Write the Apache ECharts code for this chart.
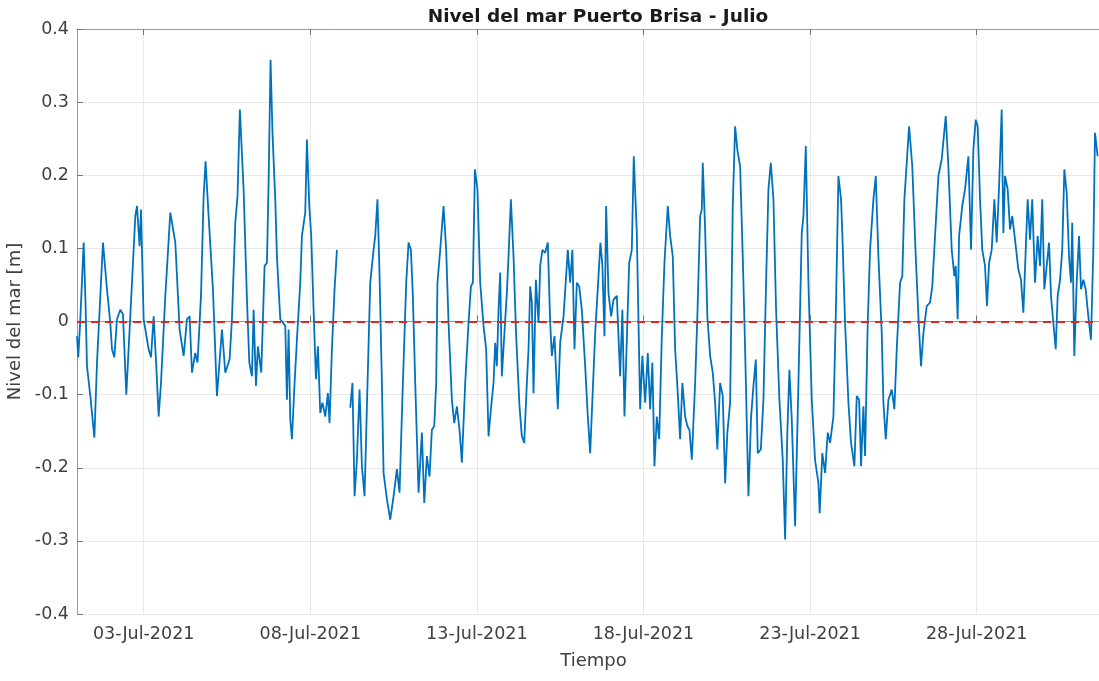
<!DOCTYPE html>
<html><head><meta charset="utf-8">
<script src="https://cdn.jsdelivr.net/npm/echarts@6/dist/echarts.min.js"></script>
<style>html,body{margin:0;padding:0;background:#fff}#c{width:1099px;height:681px}</style>
</head><body><div id="c"></div>
<script>
// hours since 01-Jul-2021 00:00
const hours = [
0.0,0.9,2.4,4.8,6.0,7.2,9.6,12.5,14.4,16.8,18.7,21.6,24.0,25.2,26.9,28.8,31.2,33.1,35.5,37.9,
42.0,43.2,45.1,46.1,48.0,51.6,53.3,55.2,57.1,58.8,60.5,63.6,67.2,70.8,73.9,76.8,79.2,81.1,82.8,85.2,
86.8,89.3,91.2,92.6,94.8,97.9,100.8,104.4,106.8,109.9,111.6,114.0,115.6,117.3,120.0,122.4,124.1,126.0,127.2,128.9,
130.3,132.7,135.1,136.8,138.0,139.4,140.8,142.8,144.0,146.4,150.0,151.2,152.4,153.6,154.8,156.7,158.4,160.8,162.0,164.4,
165.6,167.3,168.7,170.4,172.1,173.5,175.2,176.8,178.8,180.7,181.9,183.6,185.5,187.2,190.0,196.8,198.4,199.9,201.6,203.5,
205.2,207.1,208.8,211.2,213.6,214.8,216.4,217.7,219.6,220.8,223.2,225.6,228.0,230.4,232.3,234.7,235.7,237.1,238.8,240.5,
241.9,243.6,246.0,248.4,250.1,252.0,253.9,255.6,257.3,258.7,259.6,261.6,264.0,265.9,267.6,270.0,271.7,273.6,275.5,277.2,
279.6,282.0,283.7,285.1,286.6,288.4,290.4,292.8,294.7,296.4,298.1,300.0,301.2,302.4,303.6,304.8,306.0,307.7,309.6,310.8,
312.5,314.4,316.3,318.7,320.4,322.1,324.0,325.2,326.4,327.6,328.8,330.5,332.4,333.6,335.2,337.2,339.1,340.8,342.0,343.9,
346.3,348.0,350.4,352.1,353.5,355.2,356.8,358.3,360.0,361.7,363.6,366.0,367.9,369.6,371.2,373.2,375.6,377.0,378.4,379.9,
381.1,382.8,384.7,386.4,388.8,391.2,392.8,394.3,396.0,397.7,399.6,401.0,403.2,405.6,407.2,409.2,411.1,412.8,414.4,415.9,
417.6,419.3,421.2,423.1,425.5,427.2,429.1,430.8,432.4,434.4,436.0,438.0,439.6,441.1,442.8,445.2,446.8,448.8,450.0,450.7,
452.4,454.0,456.0,457.9,459.6,461.2,463.2,465.1,466.8,468.4,470.4,472.3,474.0,475.6,477.6,479.5,481.2,483.6,485.5,487.2,
488.9,490.3,492.5,494.4,496.3,498.0,499.7,501.6,503.5,505.9,508.3,510.0,511.6,513.1,514.8,517.2,519.6,522.0,523.2,524.9,
526.8,529.2,531.6,534.0,534.9,536.8,538.8,540.7,542.4,544.8,546.5,548.4,550.3,551.2,553.2,555.6,557.5,559.9,561.6,563.3,
564.7,566.4,567.6,569.5,571.2,573.6,575.3,577.2,579.6,580.8,582.5,584.4,586.8,588.7,590.4,592.8,594.4,595.9,599.3,601.6,
604.1,606.0,607.9,609.6,612.0,614.4,616.0,618.0,620.4,622.8,625.7,627.6,630.0,631.9,632.9,634.3,635.3,637.6,639.6,642.0,
643.9,645.6,647.3,648.7,650.4,652.0,654.0,655.4,656.9,658.8,660.7,662.4,664.1,666.0,667.2,668.4,670.3,672.0,673.6,675.6,
678.0,679.9,681.6,683.3,684.7,686.4,688.0,690.0,691.9,693.6,695.2,696.7,698.4,700.1,701.5,703.2,704.9,706.3,708.0,709.6,
711.1,712.8,714.5,715.9,716.8,718.3,720.0,721.7,723.1,724.8,726.5,728.4,730.3,732.0,733.2,735.1
];
// sea level [m]
const level = [
-0.020,-0.049,0.003,0.108,0.035,-0.061,-0.102,-0.159,-0.056,0.035,0.108,0.044,-0.002,-0.038,-0.049,0.003,0.016,0.010,-0.100,-0.011,
0.144,0.158,0.103,0.153,0.003,-0.038,-0.049,0.007,-0.061,-0.130,-0.084,0.035,0.149,0.108,-0.011,-0.047,0.003,0.007,-0.070,-0.043,
-0.056,0.035,0.171,0.219,0.144,0.044,-0.102,-0.011,-0.070,-0.052,0.003,0.135,0.171,0.290,0.180,0.030,-0.056,-0.075,0.016,-0.088,
-0.034,-0.070,0.076,0.080,0.190,0.358,0.258,0.167,0.089,0.003,-0.006,-0.107,-0.011,-0.134,-0.161,-0.084,-0.025,0.053,0.117,0.149,
0.249,0.158,0.117,0.016,-0.079,-0.034,-0.125,-0.111,-0.130,-0.098,-0.139,-0.038,0.044,0.098,null,-0.118,-0.084,-0.239,-0.189,-0.093,
-0.198,-0.239,-0.116,0.053,0.098,0.117,0.167,0.080,-0.084,-0.207,-0.243,-0.271,-0.239,-0.202,-0.234,-0.084,-0.029,0.053,0.108,0.098,
0.035,-0.084,-0.234,-0.152,-0.248,-0.184,-0.212,-0.148,-0.143,-0.084,0.053,0.098,0.158,0.098,-0.002,-0.107,-0.139,-0.116,-0.148,-0.193,
-0.084,-0.002,0.048,0.053,0.208,0.181,0.053,-0.006,-0.038,-0.157,-0.120,-0.084,-0.029,-0.061,0.016,0.067,-0.075,-0.020,0.039,0.089,
0.167,0.089,-0.020,-0.116,-0.157,-0.166,-0.084,-0.038,0.048,0.026,-0.098,0.057,-0.002,0.076,0.098,0.094,0.108,-0.002,-0.047,-0.020,
-0.120,-0.029,0.007,0.057,0.098,0.053,0.098,-0.038,0.053,0.048,0.016,-0.061,-0.130,-0.180,-0.107,-0.016,0.062,0.108,0.076,-0.020,
0.158,0.039,0.007,0.030,0.035,-0.075,0.016,-0.130,-0.025,0.080,0.098,0.226,0.121,-0.120,-0.047,-0.111,-0.043,-0.120,-0.056,-0.198,
-0.130,-0.161,-0.020,0.080,0.158,0.117,0.089,-0.038,-0.088,-0.161,-0.084,-0.130,-0.143,-0.148,-0.189,-0.084,0.007,0.144,0.153,0.217,
0.126,0.007,-0.047,-0.070,-0.111,-0.175,-0.084,-0.102,-0.221,-0.152,-0.111,0.158,0.267,0.235,0.212,0.089,-0.038,-0.239,-0.130,-0.088,
-0.052,-0.180,-0.175,-0.107,0.053,0.181,0.217,0.167,0.016,-0.107,-0.189,-0.298,-0.152,-0.066,-0.134,-0.280,-0.084,0.121,0.144,0.240,
0.053,-0.107,-0.190,-0.221,-0.262,-0.180,-0.207,-0.152,-0.166,-0.130,0.007,0.199,0.167,0.121,-0.002,-0.111,-0.166,-0.198,-0.102,-0.107,
-0.198,-0.116,-0.184,-0.002,0.098,0.167,0.199,0.089,-0.016,-0.111,-0.161,-0.107,-0.093,-0.120,-0.038,0.053,0.062,0.167,0.267,0.212,
0.089,0.007,-0.061,-0.016,0.021,0.026,0.048,0.117,0.199,0.222,0.281,0.212,0.098,0.062,0.076,0.003,0.117,0.158,0.181,0.226,
0.098,0.235,0.276,0.267,0.167,0.098,0.076,0.021,0.080,0.098,0.167,0.108,0.185,0.290,0.121,0.199,0.181,0.126,0.144,0.112,
0.071,0.057,0.012,0.098,0.167,0.112,0.167,0.053,0.117,0.076,0.167,0.044,0.076,0.108,0.035,-0.002,-0.038,0.035,0.057,0.098,
0.208,0.176,0.089,0.053,0.135,-0.047,0.053,0.117,0.044,0.057,0.044,0.007,-0.025,0.098,0.258,0.226
];
const tickHours = [48, 168, 288, 408, 528, 648];
const tickLabels = ['03-Jul-2021', '08-Jul-2021', '13-Jul-2021', '18-Jul-2021', '23-Jul-2021', '28-Jul-2021'];
const xMinHours = 0, xMaxHours = 744;
const yMin = -0.4, yMax = 0.4, yStep = 0.1;
const refLevel = 0;

const FONT = 'DejaVu Sans';
const data = hours.map((h, i) => [h, level[i]]);

const chart = echarts.init(document.getElementById('c'), null, {renderer: 'canvas'});
chart.setOption({
  animation: false,
  backgroundColor: '#ffffff',
  title: {
    text: 'Nivel del mar Puerto Brisa - Julio',
    left: 593, top: 3, textAlign: 'center',
    textStyle: {fontFamily: FONT, fontSize: 18.5, fontWeight: 'bold', color: '#1a1a1a'}
  },
  grid: {left: 77, right: -11, top: 29, bottom: 67, outerBoundsMode: 'none', containLabel: false},
  xAxis: [{
    type: 'value', min: xMinHours, max: xMaxHours,
    name: 'Tiempo', nameLocation: 'middle', nameGap: 38,
    nameTextStyle: {fontFamily: FONT, fontSize: 18, color: '#404040'},
    axisLine: {show: true, lineStyle: {color: '#9a9a9a', width: 1}},
    axisTick: {show: true, inside: true, length: 6, customValues: tickHours, lineStyle: {color: '#777'}},
    axisLabel: {
      customValues: tickHours, margin: 11,
      fontFamily: FONT, fontSize: 17.5, color: '#404040',
      formatter: v => { const i = tickHours.indexOf(v); return i >= 0 ? tickLabels[i] : ''; }
    },
    splitLine: {show: true, lineStyle: {color: '#e8e8e8', width: 1}}
  }, {
    type: 'value', position: 'top', min: xMinHours, max: xMaxHours,
    axisLine: {show: true, lineStyle: {color: '#9a9a9a', width: 1}},
    axisTick: {show: true, inside: true, length: 6, customValues: tickHours, lineStyle: {color: '#777'}},
    axisLabel: {show: false},
    splitLine: {show: false}
  }],
  yAxis: {
    type: 'value', min: yMin, max: yMax, interval: yStep,
    name: 'Nivel del mar [m]', nameLocation: 'middle', nameGap: 47,
    nameTextStyle: {fontFamily: FONT, fontSize: 18, color: '#404040'},
    axisLine: {show: true, lineStyle: {color: '#9a9a9a', width: 1}},
    axisTick: {show: true, inside: true, length: 6, lineStyle: {color: '#777'}},
    axisLabel: {
      margin: 8, fontFamily: FONT, fontSize: 17.5, color: '#404040',
      formatter: v => String(Math.round(v * 10) / 10)
    },
    splitLine: {show: true, lineStyle: {color: '#e8e8e8', width: 1}}
  },
  series: [{
    type: 'line', data: data, xAxisIndex: 0,
    showSymbol: false, symbol: 'none', connectNulls: false,
    lineStyle: {color: '#0072BD', width: 1.8},
    markLine: {
      silent: true, symbol: 'none', label: {show: false},
      lineStyle: {color: '#e3241f', type: [8, 6], width: 1.9},
      data: [{yAxis: refLevel}]
    },
    z: 3
  }]
});
</script></body></html>
